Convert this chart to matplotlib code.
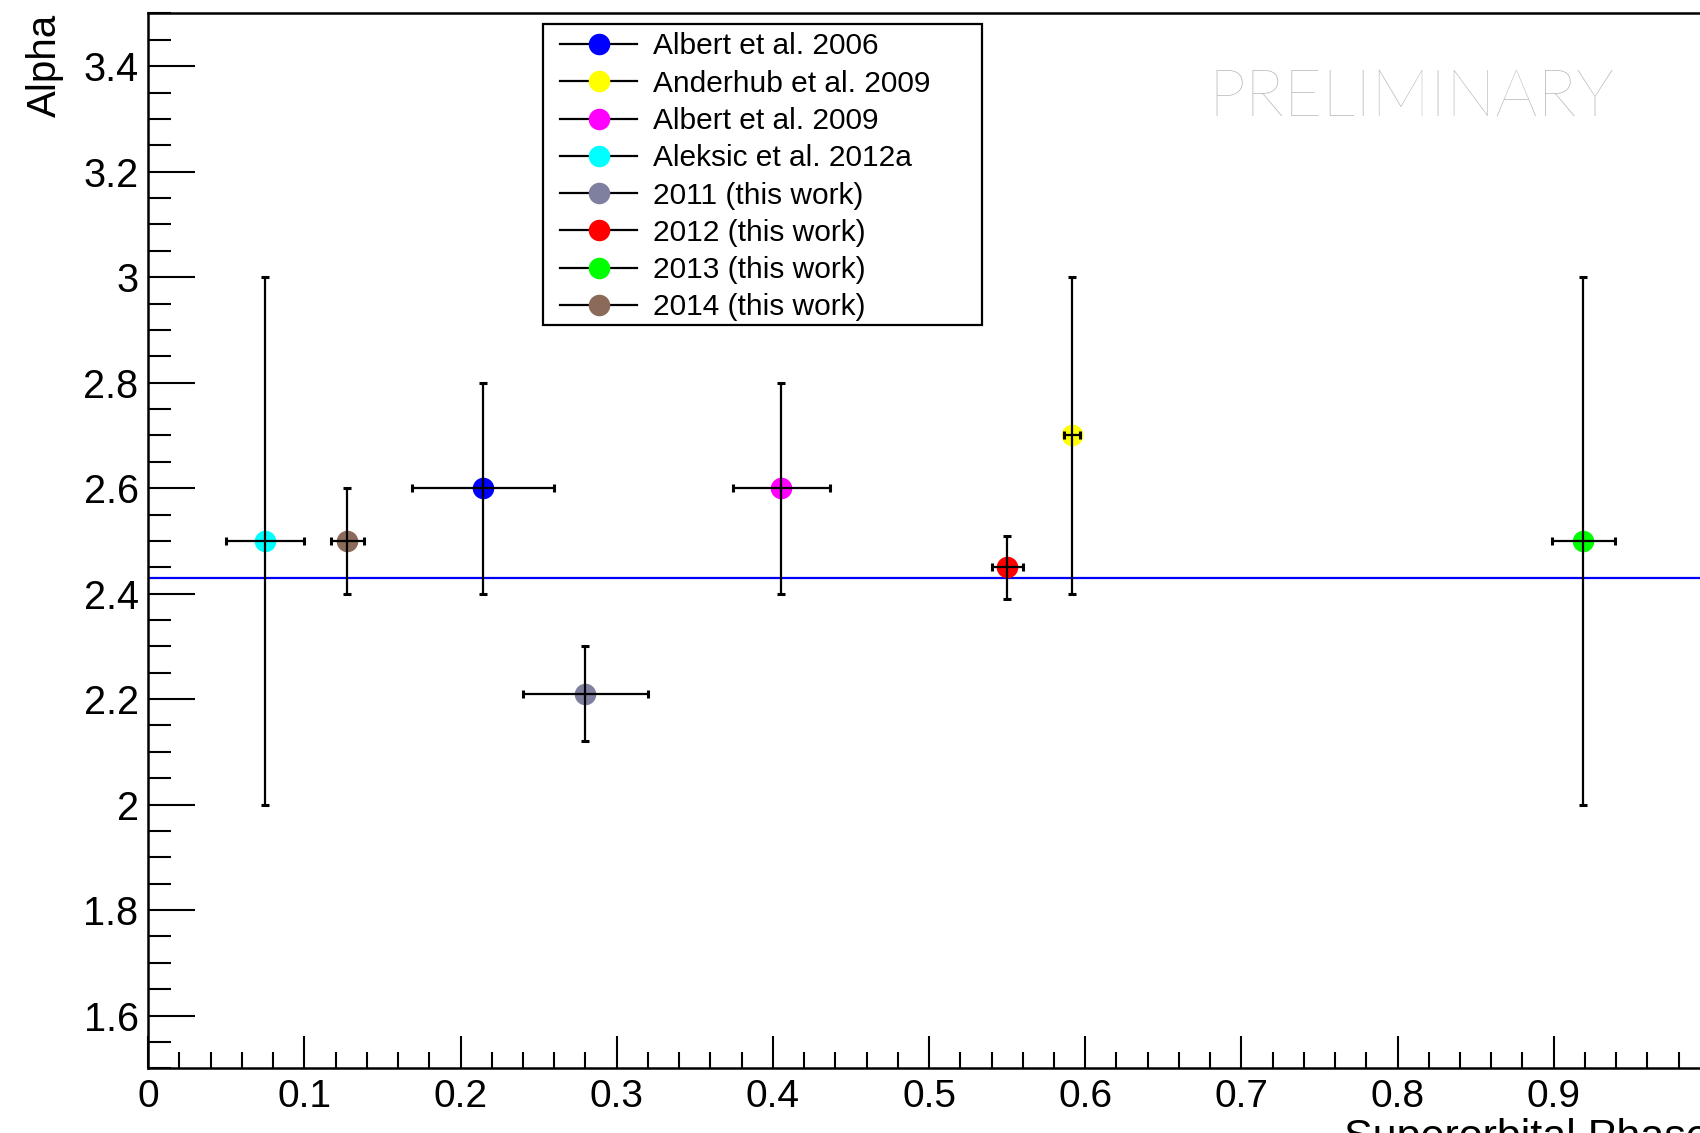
import numpy as np
import matplotlib
matplotlib.use('Agg')
import matplotlib.pyplot as plt
from matplotlib.lines import Line2D
from matplotlib.patches import Rectangle
from matplotlib.ticker import MultipleLocator

plt.rcParams['font.family'] = ['Liberation Sans', 'DejaVu Sans']

# точки: назва, колір, фаза, похибка фази, alpha, похибка alpha
labels = ['Albert et al. 2006', 'Anderhub et al. 2009', 'Albert et al. 2009',
          'Aleksic et al. 2012a', '2011 (this work)', '2012 (this work)',
          '2013 (this work)', '2014 (this work)']
colors = ['#0000ff', '#ffff00', '#ff00ff', '#00ffff', '#7f7fa0', '#ff0000',
          '#00ff00', '#8c6a5a']
phase = [0.2145, 0.5915, 0.4055, 0.075, 0.28, 0.55, 0.919, 0.1275]
phase_err = [0.0455, 0.005, 0.031, 0.025, 0.04, 0.01, 0.02, 0.0105]
alpha = [2.6, 2.7, 2.6, 2.5, 2.21, 2.45, 2.5, 2.5]
alpha_err = [0.2, 0.3, 0.2, 0.5, 0.09, 0.06, 0.5, 0.1]

fit_alpha = 2.43

fig = plt.figure(figsize=(17, 11.33), dpi=100)
ax = fig.add_axes([0.0872, 0.0571, 0.9186, 0.9310])

ax.axhline(fit_alpha, color='#0000ff', lw=1.6, zorder=1)
for i in range(len(labels)):
    ax.plot(phase[i], alpha[i], 'o', color=colors[i], ms=14.5, mec=colors[i], zorder=2)
ax.errorbar(phase, alpha, xerr=phase_err, yerr=alpha_err, fmt='none', ecolor='black',
            elinewidth=1.6, capsize=3, capthick=2.2, zorder=3)

ax.set_xlim(0, 1.0)
ax.set_ylim(1.5, 3.5)
ax.xaxis.set_minor_locator(MultipleLocator(0.02))
ax.yaxis.set_minor_locator(MultipleLocator(0.05))
ax.set_xticks(np.arange(0, 1.0, 0.1))
ax.set_xticklabels(['0'] + [f'{v:.1f}' for v in np.arange(0.1, 0.95, 0.1)])
ax.set_yticks(np.arange(1.6, 3.41, 0.2))
ax.set_yticklabels([f'{v:g}' for v in np.round(np.arange(1.6, 3.41, 0.2), 1)])

ax.tick_params(axis='both', which='both', direction='in', width=1.5, top=False, right=False)
ax.tick_params(axis='y', which='major', length=34, labelsize=28.5, pad=7)
ax.tick_params(axis='y', which='minor', length=16.5)
ax.tick_params(axis='x', which='major', length=23, labelsize=28, pad=8)
ax.tick_params(axis='x', which='minor', length=11.5)
for s in ax.spines.values():
    s.set_linewidth(1.8)

ax.set_ylabel('Alpha', fontsize=29, loc='top', labelpad=14)
ax.set_xlabel('Superorbital Phase', fontsize=31, loc='right', labelpad=2)

# легенда в стилі ROOT: рамка окремо, записи без власної рамки
handles = [Line2D([], [], color='black', lw=1.6, marker='o', ms=14.5,
                  markerfacecolor=c, markeredgecolor=c) for c in colors]
leg = ax.legend(handles, labels, loc='upper left', bbox_to_anchor=(560 / 1700, 1 - 32.5 / 1133),
                bbox_transform=fig.transFigure, borderaxespad=0, borderpad=0, fontsize=21.5,
                frameon=False, handlelength=2.58, handletextpad=0.54, labelspacing=0.31)
fig.patches.append(Rectangle((543 / 1700, 1 - 325 / 1133), (982 - 543) / 1700, 301 / 1133,
                             transform=fig.transFigure, fill=False, edgecolor='black',
                             linewidth=1.6, zorder=5))

fig.text(1208 / 1700, 1 - 116 / 1133, 'PRELIMINARY', fontsize=47.5, color='#b8b8b8',
         family=['Lato', 'DejaVu Sans'], fontweight='light', ha='left', va='baseline')

fig.savefig('out.png', dpi=100)
